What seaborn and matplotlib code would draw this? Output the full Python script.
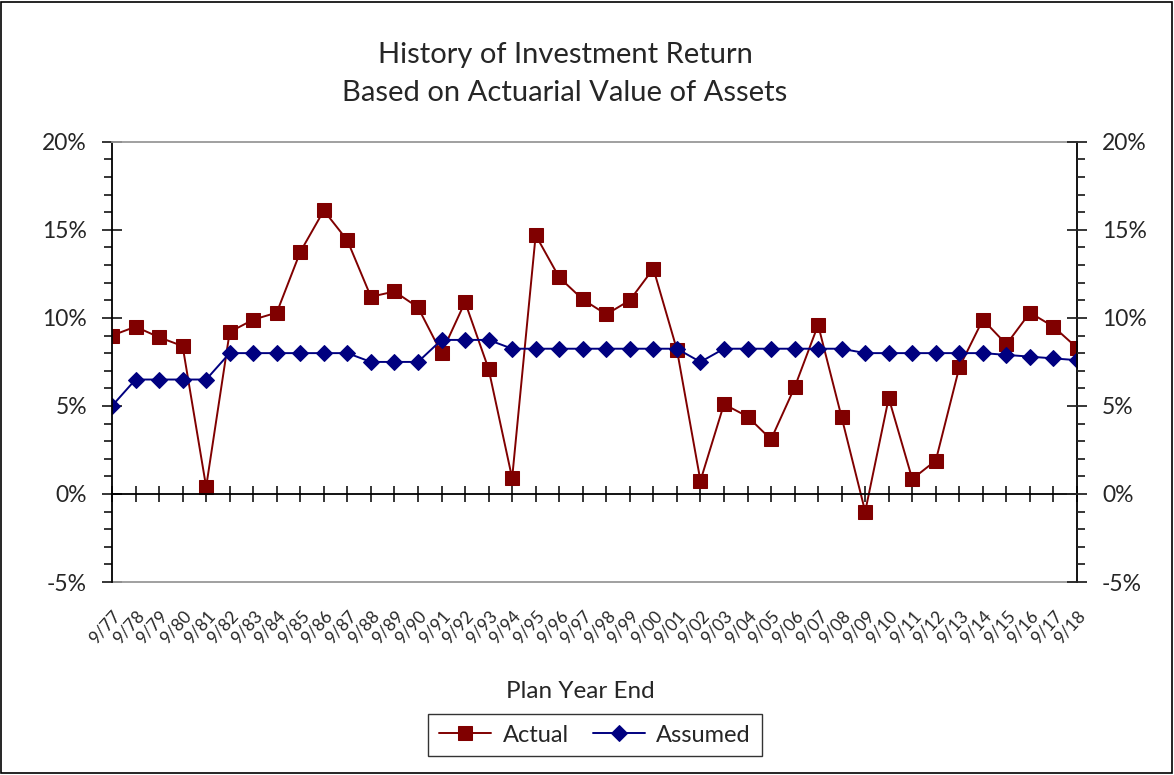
import pandas as pd
import matplotlib.pyplot as plt
import seaborn as sns
from matplotlib.patches import Rectangle
from matplotlib.ticker import MultipleLocator, FuncFormatter

# Data
years = ['9/77', '9/78', '9/79', '9/80', '9/81', '9/82', '9/83', '9/84', '9/85', '9/86',
         '9/87', '9/88', '9/89', '9/90', '9/91', '9/92', '9/93', '9/94', '9/95', '9/96',
         '9/97', '9/98', '9/99', '9/00', '9/01', '9/02', '9/03', '9/04', '9/05', '9/06',
         '9/07', '9/08', '9/09', '9/10', '9/11', '9/12', '9/13', '9/14', '9/15', '9/16',
         '9/17', '9/18']
actual = [9.0, 9.5, 8.9, 8.4, 0.4, 9.2, 9.9, 10.3, 13.75, 16.1,
          14.4, 11.2, 11.5, 10.6, 8.0, 10.9, 7.1, 0.9, 14.7, 12.3,
          11.05, 10.2, 11.0, 12.8, 8.2, 0.75, 5.1, 4.4, 3.1, 6.05,
          9.6, 4.35, -1.0, 5.45, 0.85, 1.9, 7.2, 9.9, 8.5, 10.3,
          9.5, 8.3]
assumed = [5.0, 6.5, 6.5, 6.5, 6.5, 8.0, 8.0, 8.0, 8.0, 8.0,
           8.0, 7.5, 7.5, 7.5, 8.75, 8.75, 8.75, 8.25, 8.25, 8.25,
           8.25, 8.25, 8.25, 8.25, 8.25, 7.5, 8.25, 8.25, 8.25, 8.25,
           8.25, 8.25, 8.0, 8.0, 8.0, 8.0, 8.0, 8.0, 7.9, 7.8,
           7.7, 7.6]

df = pd.DataFrame({'pos': range(len(years)), 'Actual': actual, 'Assumed': assumed})

sns.set_style('white')
plt.rcParams['font.family'] = ['Lato', 'DejaVu Sans']

fig = plt.figure(figsize=(11.74, 7.75), dpi=100)
ax = fig.add_axes([0.0954, 0.249, 0.822, 0.568])

sns.lineplot(x='pos', y='Actual', data=df, ax=ax, color='#800000', marker='s',
             markersize=10, markeredgecolor='#800000', linewidth=1.4, label='Actual')
sns.lineplot(x='pos', y='Assumed', data=df, ax=ax, color='#000080', marker='D',
             markersize=8.5, markeredgecolor='#000080', linewidth=1.4, label='Assumed')

ax.set_xlim(0, len(years) - 1)
ax.set_ylim(-5, 20)
pct = FuncFormatter(lambda v, p: f'{v:.0f}%')
ax.yaxis.set_major_locator(MultipleLocator(5))
ax.yaxis.set_minor_locator(MultipleLocator(1))
ax.yaxis.set_major_formatter(pct)

# x axis crosses at 0%
ax.spines['bottom'].set_position(('data', 0))
ax.spines['bottom'].set_color('black')
ax.spines['left'].set_color('black')
ax.spines['right'].set_color('black')
ax.spines['top'].set_color('#999999')
for s in ax.spines.values():
    s.set_linewidth(1.3)
ax.axhline(-5, color='#999999', linewidth=1.3, clip_on=False)

ax.set_xticks(df['pos'])
ax.set_xticklabels(years, rotation=48, ha='right', rotation_mode='anchor', fontsize=12.5)
ax.tick_params(axis='x', which='major', direction='inout', length=12, width=1.3,
               bottom=True, pad=76)
ax.tick_params(axis='y', which='major', direction='inout', length=14, width=1.3,
               left=True, labelsize=16.5, pad=11)
ax.tick_params(axis='y', which='minor', direction='out', length=6, width=1.3, left=True)

ax2 = ax.twinx()
ax2.set_ylim(-5, 20)
ax2.yaxis.set_major_locator(MultipleLocator(5))
ax2.yaxis.set_minor_locator(MultipleLocator(1))
ax2.yaxis.set_major_formatter(pct)
ax2.tick_params(axis='y', which='major', direction='inout', length=14, width=1.3,
                right=True, labelsize=16.5, pad=11)
ax2.tick_params(axis='y', which='minor', direction='out', length=6, width=1.3, right=True)
for s in ax2.spines.values():
    s.set_visible(False)

ax.set_xlabel('')
ax.set_ylabel('')
ax2.set_ylabel('')

fig.text(565 / 1174, 1 - 55 / 775, 'History of Investment Return', ha='center', va='center', fontsize=21)
fig.text(565 / 1174, 1 - 93 / 775, 'Based on Actuarial Value of Assets', ha='center', va='center', fontsize=21)
fig.text(580 / 1174, 1 - 692 / 775, 'Plan Year End', ha='center', va='center', fontsize=17.5)

leg = ax.legend(loc='center', bbox_to_anchor=(595 / 1174, 1 - 735 / 775),
                bbox_transform=fig.transFigure, ncol=2, fontsize=17, frameon=True,
                fancybox=False, edgecolor='black', handlelength=2.2, columnspacing=1.0,
                handletextpad=0.5, borderpad=0.45)
leg.get_frame().set_linewidth(1.0)

fig.patches.append(Rectangle((0.001, 0.002), 0.997, 0.996, transform=fig.transFigure,
                             fill=False, edgecolor='black', linewidth=1.2))

fig.savefig('out.png', dpi=100)
